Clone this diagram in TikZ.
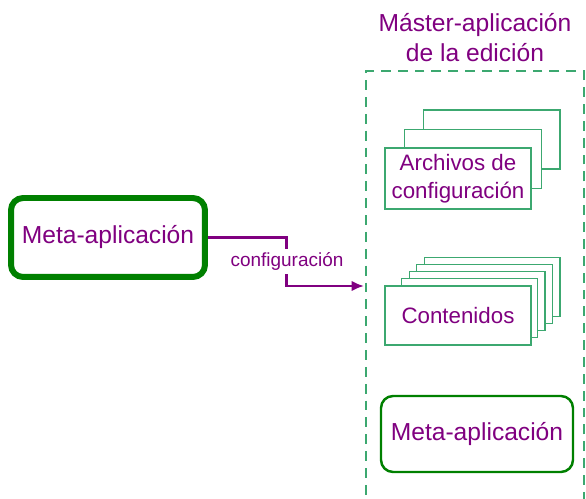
\documentclass[tikz,border=0pt]{standalone}
\usepackage{fontspec}
\setmainfont{Liberation Sans}
\usetikzlibrary{shapes,arrows,arrows.meta,positioning}

\definecolor{lila}{RGB}{128,0,128}
\definecolor{hoja}{RGB}{60,168,112}
\definecolor{verde}{RGB}{0,128,0}

\begin{document}
\begin{tikzpicture}
            [
                x=0.02cm, y=-0.02cm,
                metabox/.style={rectangle, rounded corners=0.24cm, draw=verde, fill=white, text=lila, font=\fontsize{14}{16}\selectfont},
                hojabox/.style={rectangle, draw=hoja, fill=white, line width=0.85pt, minimum height=1.18cm, text=lila, align=center, font=\fontsize{12.7}{16}\selectfont},
                marco/.style={rectangle, draw=hoja, line width=0.85pt, dash pattern=on 5.6pt off 4pt, minimum width=4.36cm, minimum height=8.98cm},
                flecha/.style={draw=lila, line width=1.7pt, -{Latex[length=7pt,width=6pt]}},
            ]

            \clip (0,0) rectangle (586,499);

            %% EDITION FRAME
            \node[marco] (maestra) at (475,295.5) {};
            \node[text=lila, align=center, font=\fontsize{14}{17}\selectfont] (titulo) at (475,38) {Máster-aplicación\\de la edición};

            %% CONFIG FILES
            \foreach \i in {2,1}
            {
                \node[hojabox, anchor=north west, minimum width=2.74cm] (archivo\i) at (385.5+18.5*\i,148.5-19.5*\i) {};
            }
            \node[hojabox, minimum width=2.92cm] (archivos) at (458,178.5) {Archivos de\\configuración};

            %% CONTENTS
            \foreach \i in {4,...,1}
            {
                \node[hojabox, anchor=north west, minimum width=2.72cm] (contenido\i) at (393.5+7.5*\i,285-7*\i) {};
            }
            \node[hojabox, minimum width=2.92cm] (contenidos) at (458,315.5) {Contenidos};

            %% META APPLICATIONS
            \node[metabox, line width=3.4pt, minimum width=3.88cm, minimum height=1.58cm] (metaizq) at (108,237.5) {Meta-aplicación};
            \node[metabox, line width=1.4pt, minimum width=3.84cm, minimum height=1.52cm] (metader) at (477,434) {Meta-aplicación};

            %% CONFIG ARROW
            \coordinate (entrada) at (364,286);
            \draw[flecha] (metaizq.east) -- ++(79,0) |- (entrada)
                node[pos=0.25, fill=white, text=lila, inner sep=2pt, font=\fontsize{10.8}{13}\selectfont] (etiqueta) {configuración};

        \end{tikzpicture}
\end{document}
